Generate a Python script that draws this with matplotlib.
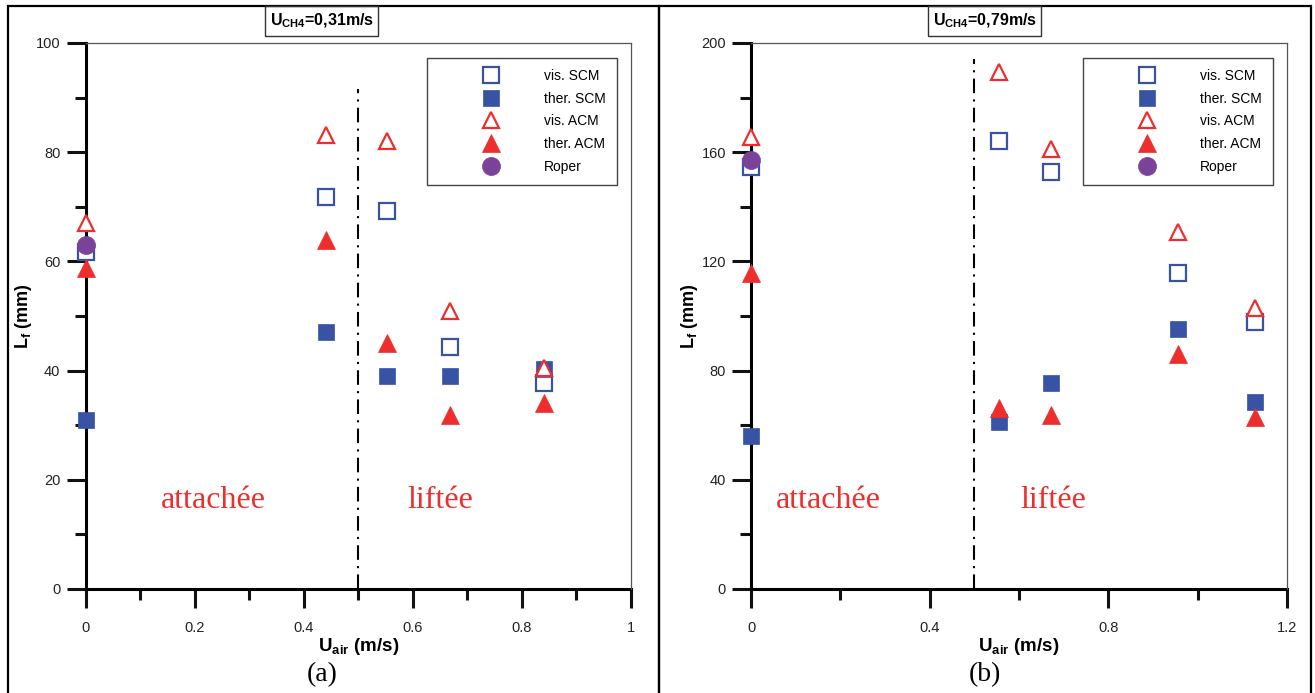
import matplotlib
matplotlib.use("Agg")
import matplotlib.pyplot as plt
from matplotlib.patches import Rectangle
from matplotlib.ticker import MultipleLocator

plt.rcParams['font.family'] = ['Liberation Sans', 'DejaVu Sans']
plt.rcParams['mathtext.fontset'] = 'custom'
plt.rcParams['mathtext.rm'] = 'Liberation Sans:bold'
plt.rcParams['mathtext.bf'] = 'Liberation Sans:bold'
plt.rcParams['mathtext.it'] = 'Liberation Sans:bold'

# ---------------- data ----------------
# panel (a): U_CH4 = 0.31 m/s
x_a = [0.0, 0.44, 0.553, 0.668, 0.841]
vis_scm_a = [61.8, 71.8, 69.2, 44.4, 37.8]
ther_scm_a = [31.0, 47.0, 39.0, 39.0, 40.3]
vis_acm_a = [67.0, 83.2, 82.1, 50.9, 40.5]
ther_acm_a = [58.8, 63.9, 45.0, 31.9, 34.0]
roper_x_a = [0.0]
roper_a = [63.0]

# panel (b): U_CH4 = 0.79 m/s
x_b = [0.0, 0.556, 0.672, 0.957, 1.129]
vis_scm_b = [154.7, 164.1, 152.6, 115.9, 97.7]
ther_scm_b = [56.0, 61.1, 75.3, 95.1, 68.4]
vis_acm_b = [165.7, 189.5, 161.2, 130.7, 102.8]
ther_acm_b = [115.6, 66.2, 63.7, 86.0, 63.1]
roper_x_b = [0.0]
roper_b = [157.1]

titles = ["=0,31m/s", "=0,79m/s"]
panel_tags = ["(a)", "(b)"]
series_labels = ["vis. SCM", "ther. SCM", "vis. ACM", "ther. ACM", "Roper"]
regime_labels = ["attachée", "liftée"]

BLUE = "#3953a4"
RED = "#ee2d2d"
PURPLE = "#7a4399"

W, H = 1315, 693
fig = plt.figure(figsize=(W / 100, H / 100), dpi=100)


def fx(px):
    return px / W


def fy(py):
    return 1 - py / H


# panel borders
for x0, x1 in [(8, 659), (659, 1311)]:
    fig.add_artist(Rectangle((fx(x0), fy(700)), fx(x1) - fx(x0), fy(6) - fy(700),
                             transform=fig.transFigure, fill=False, lw=1.6,
                             edgecolor="black", zorder=0))

panels = [
    dict(x=x_a, vs=vis_scm_a, ts=ther_scm_a, va=vis_acm_a, ta=ther_acm_a,
         rx=roper_x_a, r=roper_a, left=85.5, right=631, xmax=1.0, ymax=100,
         xmaj=0.2, xmin=0.1, ymaj=20, ymin=10, dash_top=91.5,
         xticks=[0, 0.2, 0.4, 0.6, 0.8, 1], xtl=["0", "0.2", "0.4", "0.6", "0.8", "1"],
         box=(265, 378), lab_x=(213, 440), tag_x=322),
    dict(x=x_b, vs=vis_scm_b, ts=ther_scm_b, va=vis_acm_b, ta=ther_acm_b,
         rx=roper_x_b, r=roper_b, left=751, right=1287, xmax=1.2, ymax=200,
         xmaj=0.4, xmin=0.2, ymaj=40, ymin=20, dash_top=194,
         xticks=[0, 0.4, 0.8, 1.2], xtl=["0", "0.4", "0.8", "1.2"],
         box=(928, 1041), lab_x=(828, 1053), tag_x=985),
]

for i, p in enumerate(panels):
    ax = fig.add_axes([fx(p["left"]), fy(589), fx(p["right"]) - fx(p["left"]), fy(43) - fy(589)])
    ax.set_xlim(0, p["xmax"])
    ax.set_ylim(0, p["ymax"])

    ax.axvline(0.5, ymin=0, ymax=p["dash_top"] / p["ymax"], color="black", lw=1.5,
               linestyle=(0, (7, 3, 1, 3)), zorder=1)

    kw = dict(linestyle="none", clip_on=False, zorder=3)
    ax.plot(p["x"], p["vs"], marker="s", ms=11.5, mfc="white", mec=BLUE, mew=1.6, label=series_labels[0], **kw)
    ax.plot(p["x"], p["ts"], marker="s", ms=12, mfc=BLUE, mec=BLUE, mew=0.5, label=series_labels[1], **kw)
    ax.plot(p["x"], p["va"], marker="^", ms=12, mfc="white", mec=RED, mew=1.6, label=series_labels[2], **kw)
    ax.plot(p["x"], p["ta"], marker="^", ms=13, mfc=RED, mec=RED, mew=0.5, label=series_labels[3], **kw)
    ax.plot(p["rx"], p["r"], marker="o", ms=13, mfc=PURPLE, mec=PURPLE, mew=0.5, label=series_labels[4], **kw)

    for side in ["top", "right"]:
        ax.spines[side].set_color("#555555")
        ax.spines[side].set_linewidth(0.9)
    for side in ["left", "bottom"]:
        ax.spines[side].set_linewidth(2.2)
        ax.spines[side].set_zorder(2)

    ax.xaxis.set_major_locator(MultipleLocator(p["xmaj"]))
    ax.xaxis.set_minor_locator(MultipleLocator(p["xmin"]))
    ax.yaxis.set_major_locator(MultipleLocator(p["ymaj"]))
    ax.yaxis.set_minor_locator(MultipleLocator(p["ymin"]))
    ax.set_xticks(p["xticks"])
    ax.set_xticklabels(p["xtl"])
    ax.tick_params(which="major", direction="out", length=14, width=2.2, labelsize=10.5,
                   color="#111111", labelcolor="#222222")
    ax.tick_params(which="minor", direction="out", length=8, width=2.2, color="#111111")
    ax.tick_params(axis="x", which="major", pad=9)
    ax.tick_params(axis="y", which="major", pad=4)

    ax.set_xlabel(r"U$_{\mathregular{air}}$ (m/s)", fontsize=13.5, fontweight="bold", labelpad=1)
    ax.set_ylabel(r"L$_{\mathregular{f}}$ (mm)", fontsize=13, fontweight="bold", labelpad=1)

    leg = ax.legend(loc="upper right", bbox_to_anchor=((p["right"] - 14 - p["left"]) / (p["right"] - p["left"]), 1 - 15 / 546),
                    fontsize=10, frameon=True, fancybox=False, framealpha=1,
                    edgecolor="#444444", handlelength=7.6, handletextpad=0.0,
                    borderpad=0.8, labelspacing=0.62, borderaxespad=0, numpoints=1)
    leg.get_frame().set_linewidth(1.0)

    # regime labels
    for lab, lx in zip(regime_labels, p["lab_x"]):
        fig.text(fx(lx), fy(500), lab, color=RED, fontsize=23, family="Liberation Serif",
                 ha="center", va="center")

    # title box
    b0, b1 = p["box"]
    fig.add_artist(Rectangle((fx(b0), fy(36)), fx(b1) - fx(b0), fy(6) - fy(36),
                             transform=fig.transFigure, fill=False, lw=1.0,
                             edgecolor="#333333"))
    fig.text(fx((b0 + b1) / 2), fy(21), r"U$_{\mathregular{CH4}}$" + titles[i],
             fontsize=11.5, fontweight="bold", ha="center", va="center")

    # panel tag
    fig.text(fx(p["tag_x"]), fy(675), panel_tags[i], fontsize=20, family="Liberation Serif",
             ha="center", va="center")

fig.savefig("out.png", dpi=100)
